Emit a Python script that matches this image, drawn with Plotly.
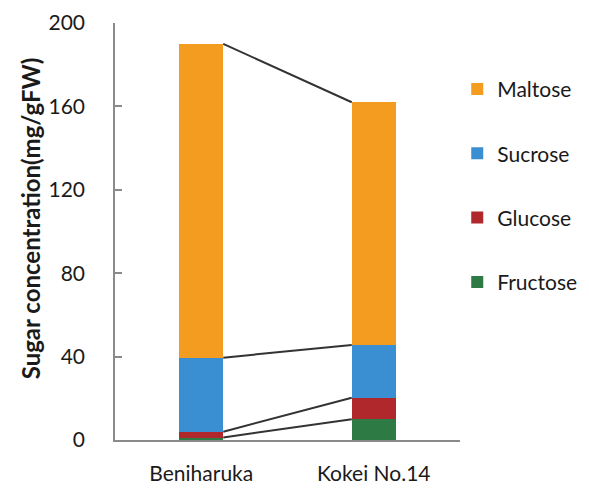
import plotly.graph_objects as go

varieties = ["Beniharuka", "Kokei No.14"]
sugars = ["Fructose", "Glucose", "Sucrose", "Maltose"]
fructose = [1.2, 10.0]
glucose = [2.8, 10.3]
sucrose = [35.5, 25.3]
maltose = [150.5, 116.4]
colors = {"Fructose": "#2E7A45", "Glucose": "#B0282C", "Sucrose": "#3A8ED2", "Maltose": "#F39C20"}
y_ticks = [0, 40, 80, 120, 160, 200]

values = {"Fructose": fructose, "Glucose": glucose, "Sucrose": sucrose, "Maltose": maltose}
xpos = [0, 1]
bar_w = 0.255
FONT = "Lato"

fig = go.Figure()
for i, s in enumerate(sugars):
    fig.add_trace(go.Bar(
        x=xpos, y=values[s], name=s, width=bar_w,
        marker=dict(color=colors[s], line=dict(width=0)),
        legendgroup=s, legendrank=len(sugars) - i,
    ))

# connector lines between cumulative levels
cum = [[0, 0]]
for s in sugars:
    prev = cum[-1]
    cum.append([prev[i] + values[s][i] for i in range(2)])
for level in cum[1:]:
    fig.add_trace(go.Scatter(
        x=[xpos[0] + bar_w / 2, xpos[1] - bar_w / 2], y=level,
        mode="lines", line=dict(color="#333333", width=2),
        showlegend=False, hoverinfo="skip",
    ))

# page body has an 8px default margin; offset the figure margins to compensate
fig.update_layout(
    barmode="stack",
    width=589, height=493,
    margin=dict(l=107, r=137, t=15, b=61, autoexpand=False),
    plot_bgcolor="white", paper_bgcolor="white",
    font=dict(family=FONT, size=21, color="#1a1a1a"),
    legend=dict(
        x=0.992, xanchor="left", y=0.89, yanchor="top",
        traceorder="grouped", tracegroupgap=34,
        font=dict(size=21, family=FONT), itemwidth=30,
    ),
    showlegend=True,
    annotations=[dict(
        text="<b>Sugar concentration(mg/gFW)</b>", textangle=-90,
        xref="paper", yref="paper", x=-0.246, y=0.532,
        xanchor="center", yanchor="middle", showarrow=False,
        font=dict(size=24, family=FONT, color="#1a1a1a"),
    )],
)
fig.update_xaxes(
    range=[-0.5, 1.5], tickvals=xpos, ticktext=varieties,
    showline=True, linecolor="#8a8a8a", linewidth=1.5,
    ticks="", showgrid=False, zeroline=False, automargin=False,
    tickfont=dict(size=21, family=FONT),
    ticklabelstandoff=14,
)
fig.update_yaxes(
    range=[0, 200], tickvals=y_ticks,
    showline=True, linecolor="#8a8a8a", linewidth=1.5,
    ticks="inside", ticklen=7, tickcolor="#8a8a8a", tickwidth=1.5,
    showgrid=False, zeroline=False, automargin=False,
    tickfont=dict(size=21, family=FONT),
    ticklabelstandoff=24,
)

fig.write_html("out.html")
